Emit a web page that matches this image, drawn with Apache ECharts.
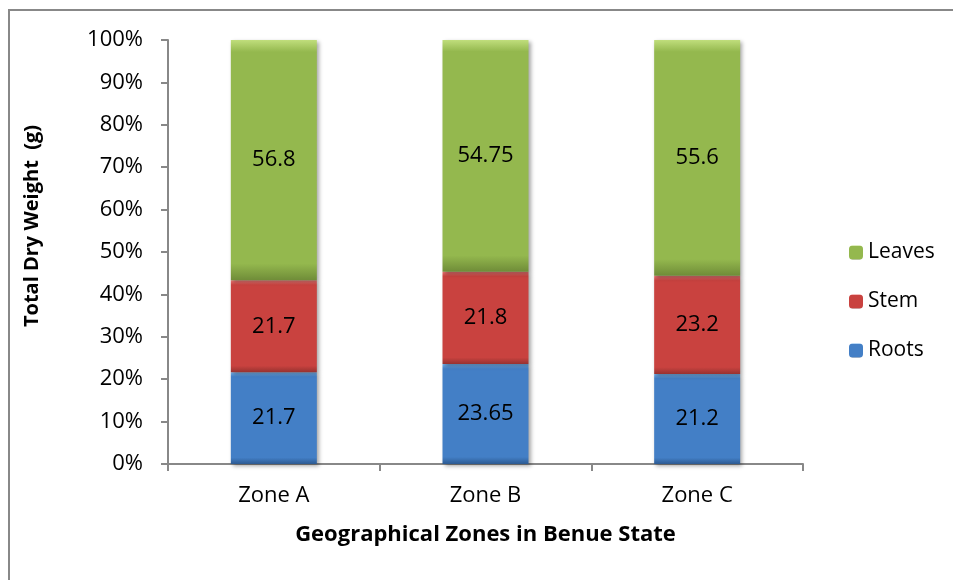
<!DOCTYPE html>
<html>
<head>
<meta charset="utf-8">
<script src="https://cdn.jsdelivr.net/npm/echarts@6/dist/echarts.min.js"></script>
<style>
  html, body { margin: 0; padding: 0; background: #fff; }
  #chart { width: 953px; height: 580px; }
</style>
</head>
<body>
<div id="chart"></div>
<script>
// data
const zones = ["Zone A", "Zone B", "Zone C"];
const roots = [21.7, 23.65, 21.2];
const stem = [21.7, 21.8, 23.2];
const leaves = [56.8, 54.75, 55.6];
const yTicks = [0, 10, 20, 30, 40, 50, 60, 70, 80, 90, 100];

const FONT = "Open Sans";

// 100% stacked: each bar is scaled to the total of its zone
const totals = zones.map((z, i) => roots[i] + stem[i] + leaves[i]);
function pct(arr) {
  return arr.map((v, i) => ({ value: (v / totals[i]) * 100, raw: v }));
}

function bevel(top, mid, bottom) {
  return new echarts.graphic.LinearGradient(0, 0, 0, 1, [
    { offset: 0, color: top },
    { offset: 0.05, color: mid },
    { offset: 0.93, color: mid },
    { offset: 1, color: bottom },
  ]);
}

function makeSeries(name, arr, fill) {
  return {
    name: name,
    type: "bar",
    stack: "total",
    barWidth: 86,
    data: pct(arr),
    itemStyle: {
      color: fill,
      shadowColor: "rgba(0,0,0,0.35)",
      shadowBlur: 4,
      shadowOffsetX: 2,
      shadowOffsetY: 2,
    },
    label: {
      show: true,
      position: "inside",
      color: "#000",
      fontFamily: FONT,
      fontSize: 22,
      formatter: (p) => String(p.data.raw),
    },
  };
}

const chart = echarts.init(document.getElementById("chart"));
chart.setOption({
  animation: false,
  backgroundColor: "#fff",
  grid: { left: 168, right: 150, top: 40, bottom: 116 },
  legend: {
    orient: "vertical",
    left: 844,
    top: 237,
    itemWidth: 14,
    itemHeight: 14,
    itemGap: 28,
    data: ["Leaves", "Stem", "Roots"],
    textStyle: { fontFamily: FONT, fontSize: 21, color: "#000" },
  },
  xAxis: {
    type: "category",
    data: zones,
    name: "Geographical Zones in Benue State",
    nameLocation: "middle",
    nameGap: 60,
    nameTextStyle: { fontFamily: FONT, fontSize: 22, fontWeight: "bold", color: "#000" },
    axisLine: { lineStyle: { color: "#888", width: 2 } },
    axisTick: { show: true, length: 7, lineStyle: { color: "#888", width: 2 } },
    axisLabel: { fontFamily: FONT, fontSize: 22, color: "#000", margin: 21 },
  },
  yAxis: {
    type: "value",
    min: 0,
    max: 100,
    interval: 10,
    axisLine: { show: true, lineStyle: { color: "#888", width: 2 } },
    axisTick: { show: true, length: 7, lineStyle: { color: "#888", width: 2 } },
    splitLine: { show: false },
    axisLabel: {
      fontFamily: FONT,
      fontSize: 22,
      color: "#000",
      margin: 25,
      formatter: (v) => (yTicks.indexOf(v) >= 0 ? v + "%" : ""),
    },
  },
  graphic: [
    {
      type: "rect",
      shape: { x: 9, y: 10, width: 1200, height: 1200 },
      style: { fill: "none", stroke: "#888", lineWidth: 2 },
      silent: true,
    },
    {
      type: "text",
      x: 32,
      y: 226,
      rotation: Math.PI / 2,
      style: {
        text: "Total Dry Weight  (g)",
        fontFamily: FONT,
        fontSize: 20,
        fontWeight: "bold",
        fill: "#000",
        align: "center",
        verticalAlign: "middle",
      },
    },
  ],
  series: [
    makeSeries("Roots", roots, bevel("#78b4ee", "#437fc6", "#2c5a92")),
    makeSeries("Stem", stem, bevel("#f07a78", "#c9423f", "#973230")),
    makeSeries("Leaves", leaves, bevel("#c0de7c", "#94b84e", "#6f8c38")),
  ],
});
</script>
</body>
</html>
